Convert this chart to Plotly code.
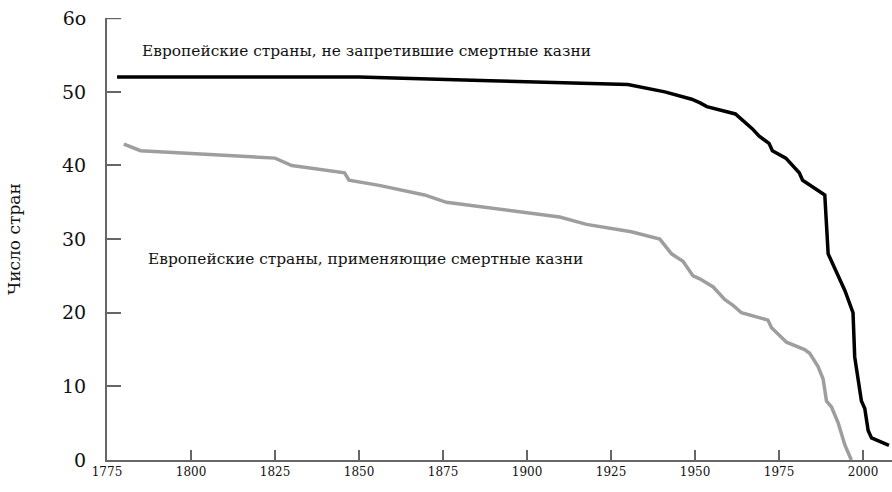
import plotly.graph_objects as go

# Европейские страны, не запретившие смертные казни
years_keep = [1778, 1850, 1889, 1930, 1941, 1949, 1951.5, 1953.5, 1962, 1967, 1969,
              1972, 1973, 1977, 1981, 1982, 1988.6, 1989.6, 1994.6, 1997, 1997.5,
              1999.5, 2000.5, 2001.5, 2002.5, 2007.7]
count_keep = [52, 52, 51.5, 51, 50, 49, 48.5, 48, 47, 45, 44,
              43, 42, 41, 39, 38, 36, 28, 23, 20, 14,
              8, 7, 4, 3, 2]

# Европейские страны, применяющие смертные казни
years_use = [1780, 1785, 1825, 1830, 1845.7, 1847, 1856, 1869.5, 1876, 1892, 1909.7,
             1917.7, 1931, 1939.5, 1943, 1946.4, 1949.4, 1951.4, 1955.4, 1958.8,
             1961.3, 1963.8, 1971.7, 1972.7, 1977.2, 1982.6, 1984.1, 1986.6,
             1988.1, 1989.1, 1990.6, 1992.6, 1994.6, 1996.5]
count_use = [42.9, 42, 41, 40, 39, 38, 37.3, 36, 35, 34, 33,
             32, 31, 30, 28, 27, 25, 24.6, 23.5, 21.8,
             21, 20, 19, 18, 16, 15, 14.5, 12.7,
             11, 8, 7.2, 5, 2, 0]

x_ticks = [1775, 1800, 1825, 1850, 1875, 1900, 1925, 1950, 1975, 2000]
y_ticks = [0, 10, 20, 30, 40, 50, 60]
y_ticktext = ["0", "10", "20", "30", "40", "50", "6o"]

serif = "DejaVu Serif"
axis_grey = "#666666"

fig = go.Figure()
fig.add_trace(go.Scatter(x=years_keep, y=count_keep, mode="lines",
                         line=dict(color="black", width=3.5), hoverinfo="skip"))
fig.add_trace(go.Scatter(x=years_use, y=count_use, mode="lines",
                         line=dict(color="#9e9e9e", width=3.5), hoverinfo="skip"))

fig.add_annotation(x=1784.7, y=55.6, xref="x", yref="y", xanchor="left",
                   text="Европейские страны, не запретившие смертные казни",
                   showarrow=False, font=dict(family=serif, size=15.4, color="#111"))
fig.add_annotation(x=1786.5, y=27.3, xref="x", yref="y", xanchor="left",
                   text="Европейские страны, применяющие смертные казни",
                   showarrow=False, font=dict(family=serif, size=15.4, color="#111"))
fig.add_annotation(x=-0.1185, y=0.5, xref="paper", yref="paper", textangle=-90,
                   xanchor="center", yanchor="middle",
                   text="Число стран", showarrow=False,
                   font=dict(family=serif, size=17, color="#111"))

# plotly drops the inside tick at the very top of the axis, so draw it by hand
fig.add_shape(type="line", xref="paper", yref="y", x0=0, x1=0.018,
              y0=y_ticks[-1], y1=y_ticks[-1], line=dict(color=axis_grey, width=2))

fig.update_layout(
    width=892, height=492,
    margin=dict(l=107, r=0, t=18, b=32),
    paper_bgcolor="white", plot_bgcolor="white",
    showlegend=False,
    font=dict(family=serif, color="#111"),
)
fig.update_xaxes(range=[1775, 2008.6], tickvals=x_ticks, showgrid=False, zeroline=False,
                 showline=True, linecolor=axis_grey, linewidth=2,
                 ticks="inside", ticklen=10, tickwidth=2, tickcolor=axis_grey,
                 ticklabeloverflow="allow",
                 tickfont=dict(family=serif, size=12, color="#111"))
fig.update_yaxes(range=[0, 60.03], tickvals=y_ticks, ticktext=y_ticktext, showgrid=False,
                 zeroline=False, showline=True, linecolor=axis_grey, linewidth=2,
                 ticks="inside", ticklen=14, tickwidth=2, tickcolor=axis_grey,
                 ticklabelstandoff=15, ticklabeloverflow="allow",
                 tickfont=dict(family=serif, size=19, color="#111"))

# drop the default 8px page margin so the figure fills the window
fig.write_html("out.html", config={"displayModeBar": False},
               post_script="document.body.style.margin='0';")
